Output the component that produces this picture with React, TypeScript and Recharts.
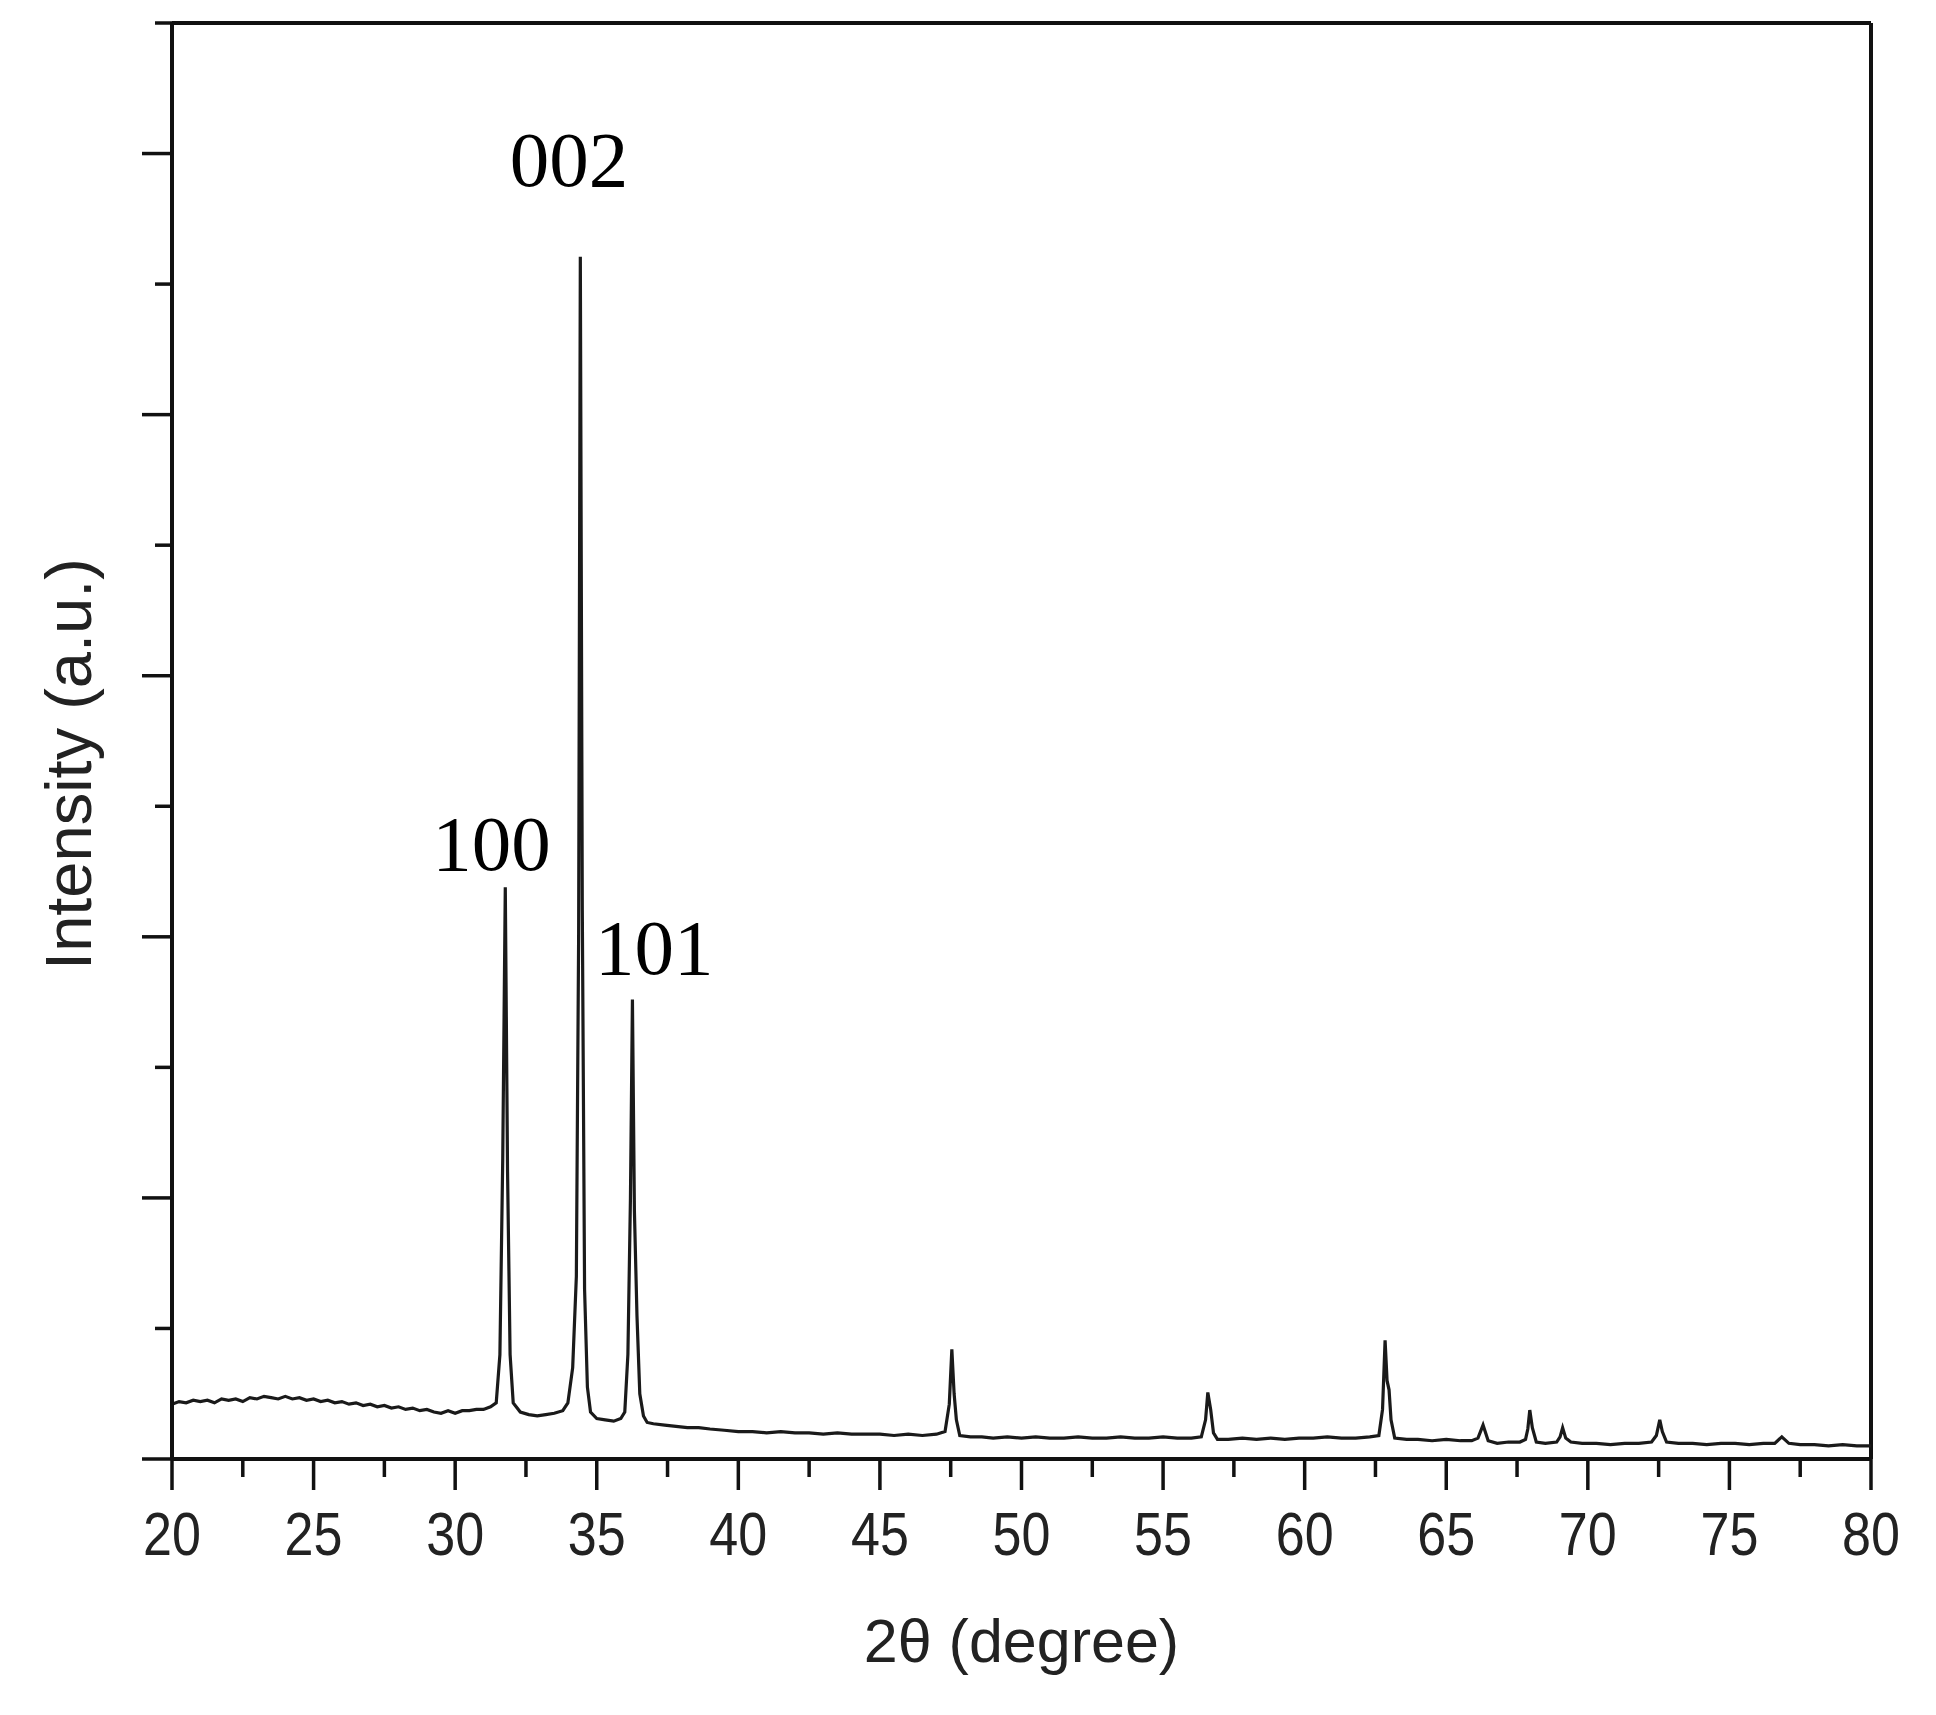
import React from 'react';
import { LineChart, Line, XAxis, YAxis, ReferenceLine, ReferenceDot } from 'recharts';

// [2θ (degree), intensity (a.u.)]
const lowAngleBackground: [number, number][] = [
  [20.0, 0.42], [20.25, 0.44], [20.5, 0.43], [20.75, 0.45], [21.0, 0.44], [21.25, 0.45], [21.5, 0.43],
  [21.75, 0.46], [22.0, 0.45], [22.25, 0.46], [22.5, 0.44], [22.75, 0.47], [23.0, 0.46], [23.25, 0.48],
  [23.5, 0.47], [23.75, 0.46], [24.0, 0.48], [24.25, 0.46], [24.5, 0.47], [24.75, 0.45], [25.0, 0.46],
  [25.25, 0.44], [25.5, 0.45], [25.75, 0.43], [26.0, 0.44], [26.25, 0.42], [26.5, 0.43], [26.75, 0.41],
  [27.0, 0.42], [27.25, 0.4], [27.5, 0.41], [27.75, 0.39], [28.0, 0.4], [28.25, 0.38], [28.5, 0.39],
  [28.75, 0.37], [29.0, 0.38], [29.25, 0.36], [29.5, 0.35], [29.75, 0.37], [30.0, 0.35], [30.25, 0.37],
  [30.5, 0.37], [30.75, 0.38], [31.0, 0.38], [31.25, 0.4], [31.45, 0.43],
];

const mainPeaks: [number, number][] = [
  [31.58, 0.8], [31.68, 2.3], [31.77, 4.38], [31.85, 2.2], [31.94, 0.8], [32.05, 0.43],
  [32.3, 0.36], [32.6, 0.34], [32.9, 0.33], [33.2, 0.34], [33.5, 0.35], [33.8, 0.37], [33.98, 0.43],
  [34.15, 0.7], [34.28, 1.4], [34.36, 4.0], [34.42, 9.21], [34.49, 4.2], [34.57, 1.3], [34.67, 0.55],
  [34.78, 0.36], [35.0, 0.31], [35.3, 0.3], [35.6, 0.29], [35.85, 0.31], [35.99, 0.36],
  [36.1, 0.8], [36.19, 2.0], [36.26, 3.52], [36.33, 1.9], [36.42, 1.1], [36.52, 0.5], [36.65, 0.33],
  [36.78, 0.28],
];

const highAngle: [number, number][] = [
  [37.0, 0.27], [37.4, 0.26], [37.8, 0.25], [38.2, 0.24], [38.6, 0.24], [39.0, 0.23], [39.5, 0.22],
  [40.0, 0.21], [40.5, 0.21], [41.0, 0.2], [41.5, 0.21], [42.0, 0.2], [42.5, 0.2], [43.0, 0.19],
  [43.5, 0.2], [44.0, 0.19], [44.5, 0.19], [45.0, 0.19], [45.5, 0.18], [46.0, 0.19], [46.5, 0.18],
  [47.0, 0.19], [47.3, 0.21], [47.45, 0.42], [47.54, 0.84], [47.62, 0.5], [47.7, 0.3], [47.82, 0.18],
  [48.2, 0.17], [48.6, 0.17], [49.0, 0.16], [49.5, 0.17], [50.0, 0.16], [50.5, 0.17], [51.0, 0.16],
  [51.5, 0.16], [52.0, 0.17], [52.5, 0.16], [53.0, 0.16], [53.5, 0.17], [54.0, 0.16], [54.5, 0.16],
  [55.0, 0.17], [55.5, 0.16], [56.0, 0.16], [56.35, 0.17], [56.5, 0.3], [56.58, 0.51], [56.68, 0.38],
  [56.78, 0.2], [56.92, 0.15], [57.3, 0.15], [57.8, 0.16], [58.3, 0.15], [58.8, 0.16], [59.3, 0.15],
  [59.8, 0.16], [60.3, 0.16], [60.8, 0.17], [61.3, 0.16], [61.8, 0.16], [62.3, 0.17], [62.62, 0.18],
  [62.75, 0.38], [62.84, 0.91], [62.91, 0.6], [62.98, 0.53], [63.05, 0.3], [63.18, 0.16],
  [63.6, 0.15], [64.0, 0.15], [64.5, 0.14], [65.0, 0.15], [65.5, 0.14], [65.9, 0.14], [66.12, 0.16],
  [66.3, 0.26], [66.48, 0.14], [66.8, 0.12], [67.2, 0.13], [67.6, 0.13], [67.8, 0.15], [67.88, 0.23],
  [67.95, 0.375], [68.04, 0.24], [68.18, 0.13], [68.5, 0.12], [68.9, 0.13], [69.02, 0.17], [69.11, 0.24],
  [69.22, 0.16], [69.4, 0.13], [69.8, 0.12], [70.3, 0.12], [70.8, 0.11], [71.3, 0.12], [71.8, 0.12],
  [72.25, 0.13], [72.42, 0.18], [72.54, 0.3], [72.63, 0.21], [72.78, 0.13], [73.2, 0.12], [73.7, 0.12],
  [74.2, 0.11], [74.7, 0.12], [75.2, 0.12], [75.7, 0.11], [76.2, 0.12], [76.6, 0.12], [76.85, 0.17],
  [77.1, 0.12], [77.5, 0.11], [78.0, 0.11], [78.5, 0.1], [79.0, 0.11], [79.5, 0.1], [80.0, 0.1],
];

const xTicks = [20, 22.5, 25, 27.5, 30, 32.5, 35, 37.5, 40, 42.5, 45, 47.5, 50, 52.5, 55, 57.5, 60, 62.5, 65, 67.5, 70, 72.5, 75, 77.5, 80];
const yTicks = [0, 1, 2, 3, 4, 5, 6, 7, 8, 9, 10, 11];

// Miller-index annotations: label and anchor in data units
const peakLabels = ['100', '002', '101'];
const peakLabelTheta = [31.28, 34.02, 37.03];
const peakLabelIntensity = [4.513, 9.755, 3.716];

const data = [...lowAngleBackground, ...mainPeaks, ...highAngle].map(([t, v]) => ({ t, v }));

const AXIS = '#111';
const SANS = '"Liberation Sans", Arial, sans-serif';
const SERIF = '"Liberation Serif", "Times New Roman", serif';

const XTick = (props: any) => {
  const { x, y, payload } = props;
  const v = payload.value as number;
  const major = v % 5 === 0;
  return (
    <g>
      <line x1={x} x2={x} y1={y} y2={y + (major ? 31 : 18)} stroke={AXIS} strokeWidth={3.5} />
      {major && (
        <text
          x={0}
          y={0}
          transform={`translate(${x},${y + 96}) scale(0.84,1)`}
          textAnchor="middle"
          fontSize={62}
          fontFamily={SANS}
          fill="#222"
        >
          {v}
        </text>
      )}
    </g>
  );
};

const YTick = (props: any) => {
  const { x, y, payload } = props;
  const v = payload.value as number;
  const len = v % 2 === 0 ? 30 : 17;
  return <line x1={x - len} x2={x} y1={y} y2={y} stroke={AXIS} strokeWidth={3.5} />;
};

const renderXLabel = (props: any) => {
  const vb = props.viewBox;
  return (
    <text x={vb.x + vb.width / 2} y={vb.y + 203} textAnchor="middle" fontSize={61} fontFamily={SANS} fill="#222">
      2θ (degree)
    </text>
  );
};

const renderYLabel = (props: any) => {
  const vb = props.viewBox;
  const cx = vb.x + 19;
  const cy = vb.y + vb.height / 2 + 23;
  return (
    <text transform={`translate(${cx},${cy}) rotate(-90)`} x={0} y={0} textAnchor="middle" fontSize={65} fontFamily={SANS} fill="#222">
      Intensity (a.u.)
    </text>
  );
};

const makePeakLabel = (text: string) => (props: any) => {
  const vb = props.viewBox;
  return (
    <text x={vb.x + vb.width / 2} y={vb.y + vb.height / 2} textAnchor="middle" fontSize={79} fontFamily={SERIF} fill="#000">
      {text}
    </text>
  );
};

export default function App() {
  return (
    <div style={{ position: 'absolute', left: 0, top: 0, width: 1936, height: 1715, background: '#fff' }}>
      <LineChart width={1936} height={1715} data={data} margin={{ top: 23, right: 65, left: 72, bottom: 156 }}>
        <XAxis
          dataKey="t"
          type="number"
          domain={[20, 80]}
          ticks={xTicks}
          interval={0}
          height={100}
          tickSize={0}
          tickMargin={0}
          tickLine={false}
          tick={<XTick />}
          axisLine={{ stroke: AXIS, strokeWidth: 4 }}
          allowDataOverflow
          label={renderXLabel}
        />
        <YAxis
          type="number"
          domain={[0, 11]}
          ticks={yTicks}
          interval={0}
          width={100}
          tickSize={0}
          tickMargin={0}
          tickLine={false}
          tick={<YTick />}
          axisLine={{ stroke: AXIS, strokeWidth: 4 }}
          allowDataOverflow
          label={renderYLabel}
        />
        <ReferenceLine y={11} stroke={AXIS} strokeWidth={4} />
        <ReferenceLine x={80} stroke={AXIS} strokeWidth={4} />
        <Line
          type="linear"
          dataKey="v"
          stroke="#1a1a1a"
          strokeWidth={3.2}
          dot={false}
          activeDot={false}
          isAnimationActive={false}
        />
        {peakLabels.map((lab, i) => (
          <ReferenceDot
            key={lab}
            x={peakLabelTheta[i]}
            y={peakLabelIntensity[i]}
            r={0}
            fill="none"
            stroke="none"
            label={makePeakLabel(lab)}
          />
        ))}
      </LineChart>
    </div>
  );
}
